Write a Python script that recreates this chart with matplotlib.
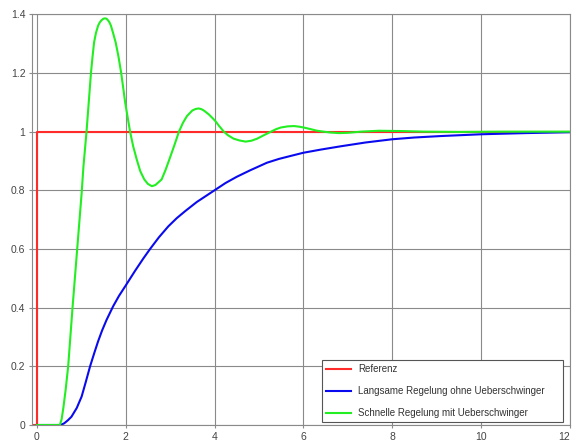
import matplotlib
matplotlib.use('Agg')
import matplotlib.pyplot as plt

# reference step
ref_t = [-0.1, 0.0, 0.0, 12.0]
ref_y = [0.0, 0.0, 1.0, 1.0]

# slow controller, no overshoot
slow_t = [0.0, 0.54, 0.62, 0.70, 0.78, 0.9, 1.01, 1.1, 1.2, 1.3, 1.38, 1.47, 1.57, 1.72,
          1.85, 2.0, 2.21, 2.4, 2.55, 2.75, 2.96, 3.15, 3.34, 3.6, 4.0, 4.25, 4.5, 4.8,
          5.18, 5.45, 5.71, 6.0, 6.4, 6.84, 7.4, 8.0, 8.5, 9.1, 10.0, 11.0, 12.0]
slow_y = [0.0, 0.0, 0.006, 0.016, 0.028, 0.058, 0.097, 0.145, 0.2, 0.248, 0.285, 0.322,
          0.358, 0.405, 0.44, 0.475, 0.525, 0.568, 0.6, 0.64, 0.677, 0.705, 0.729, 0.76,
          0.8, 0.825, 0.846, 0.868, 0.894, 0.907, 0.917, 0.928, 0.939, 0.95, 0.963, 0.974,
          0.98, 0.985, 0.991, 0.995, 0.998]

# fast controller with overshoot
fast_t = [0.0, 0.52, 0.56, 0.6, 0.65, 0.707, 0.805, 0.91, 1.01, 1.05, 1.12, 1.17, 1.22,
          1.255, 1.29, 1.33, 1.38, 1.42, 1.46, 1.5, 1.535, 1.57, 1.6, 1.635, 1.67, 1.72,
          1.776, 1.84, 1.90, 1.945, 1.99, 2.05, 2.10, 2.17, 2.25, 2.33, 2.42, 2.5, 2.59,
          2.67, 2.81, 2.9, 3.0, 3.1, 3.20, 3.29, 3.38, 3.5, 3.57, 3.64, 3.7, 3.76, 3.87,
          3.95, 4.02, 4.1, 4.21, 4.3, 4.43, 4.56, 4.70, 4.83, 4.96, 5.1, 5.26, 5.38, 5.49,
          5.65, 5.79, 5.9, 6.01, 6.15, 6.31, 6.45, 6.61, 6.8, 7.0, 7.3, 7.7, 8.2, 8.7, 9.5,
          10.5, 12.0]
fast_y = [0.0, 0.0, 0.02, 0.06, 0.12, 0.2, 0.4, 0.6, 0.79, 0.88, 1.0, 1.1, 1.2,
          1.255, 1.304, 1.335, 1.361, 1.373, 1.38, 1.385, 1.386, 1.385, 1.38, 1.373, 1.361, 1.335,
          1.304, 1.255, 1.2, 1.15, 1.099, 1.045, 1.0, 0.95, 0.905, 0.865, 0.837, 0.822, 0.814,
          0.818, 0.837, 0.87, 0.912, 0.955, 1.0, 1.03, 1.053, 1.072, 1.077, 1.079, 1.077, 1.072, 1.059,
          1.047, 1.036, 1.02, 1.0, 0.988, 0.976, 0.97, 0.966, 0.969, 0.976, 0.987, 0.999, 1.008, 1.014,
          1.018, 1.019, 1.017, 1.014, 1.009, 1.003, 1.0, 0.997, 0.995, 0.996, 1.0, 1.003, 1.002, 1.0, 0.999,
          1.0, 1.0]

x_ticks = [0, 2, 4, 6, 8, 10, 12]
y_ticks = [0, 0.2, 0.4, 0.6, 0.8, 1, 1.2, 1.4]
y_labels = ['0', '0.2', '0.4', '0.6', '0.8', '1', '1.2', '1.4']

plt.rcParams['font.family'] = ['Liberation Sans', 'DejaVu Sans']

fig = plt.figure(figsize=(5.74, 4.41), dpi=100)
ax = fig.add_axes([0.0563, 0.0363, 0.9367, 0.9313])

ax.plot(ref_t, ref_y, color='#ff2a2a', lw=1.5, label='Referenz')
ax.plot(slow_t, slow_y, color='#0a0aee', lw=1.5, label='Langsame Regelung ohne Ueberschwinger')
ax.plot(fast_t, fast_y, color='#22ee22', lw=1.5, label='Schnelle Regelung mit Ueberschwinger')

ax.set_xlim(-0.1, 12)
ax.set_ylim(0, 1.4)
ax.set_xticks(x_ticks)
ax.set_xticklabels([str(v) for v in x_ticks])
ax.get_xticklabels()[-1].set_horizontalalignment('right')
ax.set_yticks(y_ticks)
ax.set_yticklabels(y_labels)
ax.grid(True, color='#8a8a8a', lw=0.8)
ax.set_axisbelow(True)
for s in ax.spines.values():
    s.set_color('#8a8a8a')
    s.set_linewidth(0.8)
ax.tick_params(length=2, width=0.8, color='#8a8a8a', labelsize=7.5, labelcolor='#444444', pad=3)

leg = ax.legend(loc='lower left', bbox_to_anchor=(0.539, 0.007, 0.448, 0.151), mode='expand',
                fontsize=7, frameon=True, fancybox=False, framealpha=1, edgecolor='#555555',
                labelspacing=1.25, handlelength=2.6, handletextpad=0.7, borderpad=0.4,
                borderaxespad=0)
leg.get_frame().set_linewidth(0.8)
for t in leg.get_texts():
    t.set_color('#333333')

fig.savefig('out.png', dpi=100)
